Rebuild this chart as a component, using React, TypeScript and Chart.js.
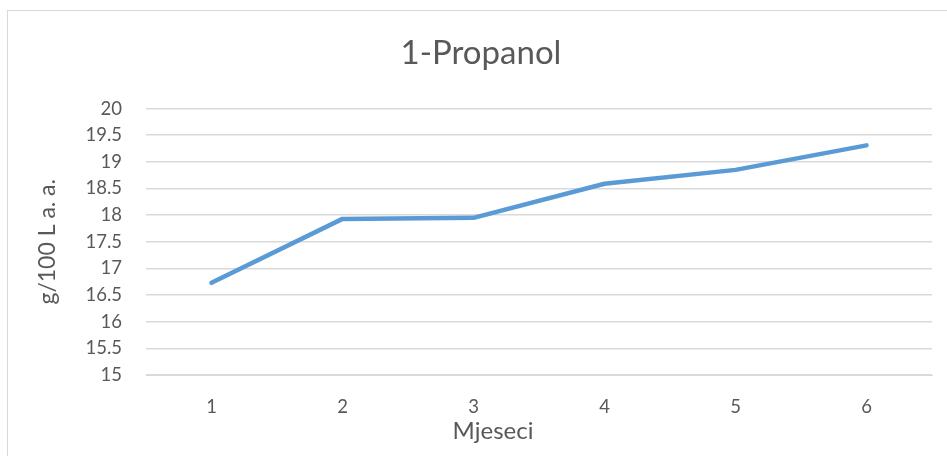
import React, { useEffect, useRef } from "react";
import { Chart, registerables } from "chart.js";

Chart.register(...registerables);

const categories = ["1", "2", "3", "4", "5", "6"];
const values = [16.73, 17.93, 17.95, 18.59, 18.85, 19.31];
const titleText = "1-Propanol";
const yTitle = "g/100 L a. a.";
const xTitle = "Mjeseci";
const FONT = "Lato, 'Open Sans', sans-serif";
const TEXT = "#595959";

const xTitlePlugin = {
  id: "xTitleOffset",
  afterDraw(chart: any) {
    const ctx = chart.ctx;
    ctx.save();
    ctx.fillStyle = TEXT;
    ctx.font = `24px ${FONT}`;
    ctx.textAlign = "center";
    ctx.textBaseline = "middle";
    ctx.fillText(xTitle, 493, 431);
    ctx.restore();
  },
};

export default function App() {
  const ref = useRef<HTMLCanvasElement | null>(null);
  useEffect(() => {
    if (!ref.current) return;
    const chart = new Chart(ref.current, {
      type: "line",
      data: {
        labels: categories,
        datasets: [
          {
            data: values,
            borderColor: "#5B9BD5",
            borderWidth: 4.5,
            pointRadius: 0,
            tension: 0,
            borderCapStyle: "round",
            borderJoinStyle: "round",
          },
        ],
      },
      plugins: [xTitlePlugin],
      options: {
        animation: false,
        responsive: false,
        maintainAspectRatio: false,
        layout: { padding: { left: 30, right: 15, top: 0, bottom: 0 } },
        plugins: {
          legend: { display: false },
          tooltip: { enabled: false },
          title: {
            display: true,
            text: titleText,
            color: TEXT,
            font: { family: FONT, size: 33, weight: "normal" },
            padding: { top: 34, bottom: 35 },
          },
        },
        scales: {
          x: {
            offset: true,
            grid: { display: false, drawTicks: false },
            border: { display: true, color: "#d9d9d9", width: 1 },
            ticks: {
              color: TEXT,
              font: { family: FONT, size: 18.5 },
              padding: 21,
            },
            afterFit: (s: any) => {
              s.height = 81;
            },
          },
          y: {
            min: 15,
            max: 20,
            ticks: {
              stepSize: 0.5,
              color: TEXT,
              font: { family: FONT, size: 18.5 },
              padding: 24,
              callback: (v: any) => String(Number(v)),
            },
            grid: { color: "#d9d9d9", lineWidth: 1.5, drawTicks: false },
            border: { display: false },
            title: {
              display: true,
              text: yTitle,
              color: TEXT,
              font: { family: FONT, size: 23 },
              padding: { top: 4, bottom: 0 },
            },
            afterFit: (s: any) => {
              s.width = 116;
            },
          },
        },
      },
    });
    return () => chart.destroy();
  }, []);
  return (
    <div
      style={{
        position: "fixed",
        left: 0,
        top: 0,
        width: 947,
        height: 456,
        overflow: "hidden",
        background: "#fff",
      }}
    >
      <div
        style={{
          position: "absolute",
          left: 7,
          top: 10,
          width: 980,
          height: 500,
          border: "1px solid #d9d9d9",
        }}
      />
      <canvas
        ref={ref}
        width={947}
        height={456}
        style={{ position: "absolute", left: 0, top: 0 }}
      />
    </div>
  );
}
